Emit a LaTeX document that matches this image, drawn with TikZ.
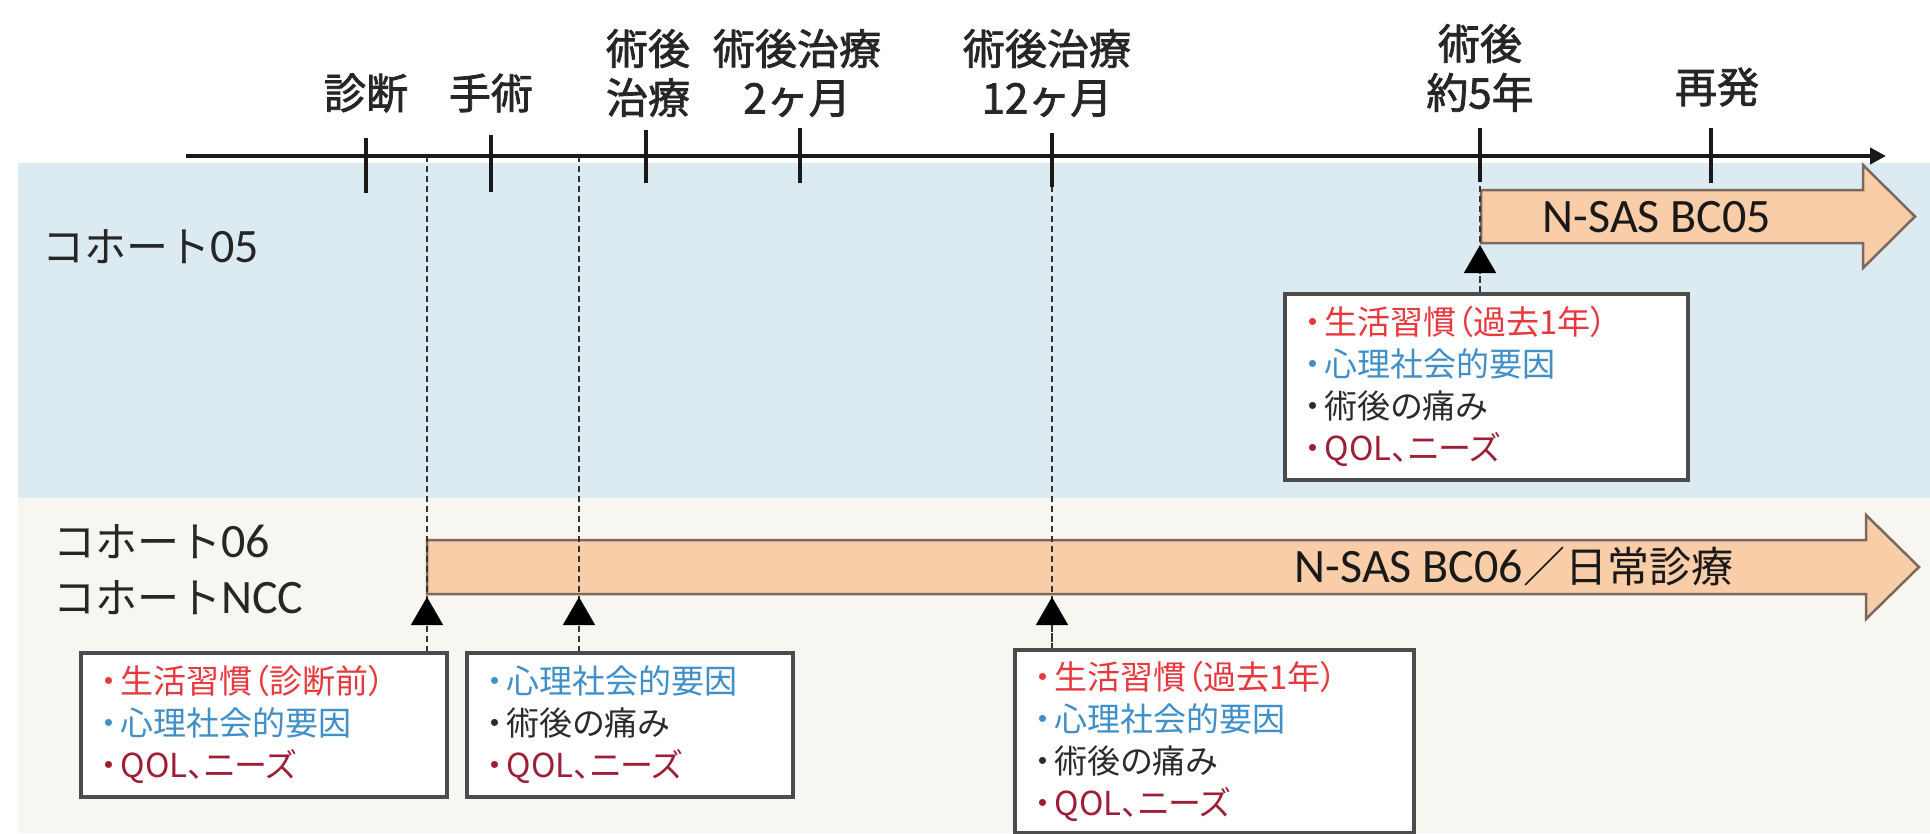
\documentclass[tikz,border=0pt]{standalone}
\usepackage{fontspec}
\setmainfont{Noto Sans CJK JP}
\newfontfamily\jp{Noto Sans CJK JP}
\newfontfamily\jpp[RawFeature=+palt]{Noto Sans CJK JP}
\newfontfamily\jpb[FakeBold=1.8]{Noto Sans CJK JP}
\newfontfamily\lat{Carlito}
\newcommand\bul{・\kern4pt}
\usetikzlibrary{arrows.meta}
\definecolor{bandblue}{HTML}{DCEAF2}
\definecolor{bandbeige}{HTML}{F8F6F1}
\definecolor{barfill}{HTML}{F9CDA8}
\definecolor{barline}{HTML}{7A6A5E}
\definecolor{cred}{HTML}{E8383D}
\definecolor{cblue}{HTML}{3F8FC8}
\definecolor{cdark}{HTML}{2B2B2B}
\definecolor{cmaroon}{HTML}{9E1F35}
\begin{document}
\begin{tikzpicture}[x=1pt,y=-1pt,
  axisline/.style={line width=4.5pt, draw=black!90, -{Triangle[length=16pt,width=16pt]}},
  tickmark/.style={line width=4pt, draw=black!90},
  timelbl/.style={font=\jpb\fontsize{42}{49}\selectfont, align=center, inner sep=0pt, text=black!85},
  cohortlbl/.style={anchor=west, inner sep=0pt, align=left, text=black!85, font=\jp\fontsize{42}{56}\selectfont},
  guide/.style={draw=black!80, line width=1.6pt, dash pattern=on 6pt off 4pt},
  pointer/.style={guide, -{Triangle[length=28pt,width=32pt,black]}},
  infobox/.style={draw=black!70, line width=2.5pt, fill=white, anchor=north west, inner xsep=19pt, inner ysep=0pt, align=left, font=\jpp\fontsize{33}{42}\selectfont},
  studybar/.style={draw=barline, line width=2.5pt, fill=barfill, line join=miter},
  bartext/.style={inner sep=0pt, text=black!90}]
\useasboundingbox (0,0) rectangle (1930,833);
\fill[white] (0,0) rectangle (1930,833);
\fill[bandblue] (18,163) rectangle (1930,498);
\fill[bandbeige] (18,498) rectangle (1930,833);

% cohort labels
\node[cohortlbl] (c05) at (42,247) {コホート{\lat\fontsize{48}{56}\selectfont 05}};
\node[cohortlbl] (c06) at (53,570) {コホート{\lat\fontsize{48}{56}\selectfont 06}\\コホート{\lat\fontsize{48}{56}\selectfont NCC}};

% study bars
\draw[studybar] (1481,190) -- (1863,190) -- (1863,165) -- (1915,216.5) -- (1863,268) -- (1863,243) -- (1481,243) -- cycle;
\node[bartext] (bc05) at (1657,217) {\lat\fontsize{48}{50}\selectfont N-SAS BC05};
\draw[studybar] (427,540) -- (1866,540) -- (1866,515) -- (1919,567) -- (1866,619) -- (1866,594) -- (427,594) -- cycle;
\node[bartext] (bc06) at (1514,567) {{\lat\fontsize{48}{50}\selectfont N-SAS BC06}{\jp\fontsize{42}{46}\selectfont ／日常診療}};

% info boxes
\node[infobox, minimum width=365pt, minimum height=143pt, text width=327pt] (q1) at (80,652)
  {{\color{cred}\bul 生活習慣（診断前）}\\{\color{cblue}\bul 心理社会的要因}\\{\color{cmaroon}\bul QOL、ニーズ}};
\node[infobox, minimum width=325pt, minimum height=143pt, text width=287pt] (q2) at (466,652)
  {{\color{cblue}\bul 心理社会的要因}\\{\color{cdark}\bul 術後の痛み}\\{\color{cmaroon}\bul QOL、ニーズ}};
\node[infobox, minimum width=398pt, minimum height=182pt, text width=360pt] (q3) at (1014,649)
  {{\color{cred}\bul 生活習慣（過去1年）}\\{\color{cblue}\bul 心理社会的要因}\\{\color{cdark}\bul 術後の痛み}\\{\color{cmaroon}\bul QOL、ニーズ}};
\node[infobox, minimum width=402pt, minimum height=185pt, text width=364pt] (q4) at (1284,293)
  {{\color{cred}\bul 生活習慣（過去1年）}\\{\color{cblue}\bul 心理社会的要因}\\{\color{cdark}\bul 術後の痛み}\\{\color{cmaroon}\bul QOL、ニーズ}};

% guides and pointers
\coordinate (g1) at (427,156); \coordinate (p1) at (427,597);
\coordinate (g2) at (579,156); \coordinate (p2) at (579,597);
\coordinate (g3) at (1052,156); \coordinate (p3) at (1052,597);
\coordinate (g4) at (1480,156); \coordinate (p4) at (1480,245);
\draw[guide] (g1) -- (g1 |- q1.north);
\draw[guide] (g2) -- (g2 |- q2.north);
\draw[guide] (g3) -- (g3 |- q3.north);
\draw[guide] (g4) -- (g4 |- q4.north);
\draw[pointer] (g1 |- q1.north) -- (p1);
\draw[pointer] (g2 |- q2.north) -- (p2);
\draw[pointer] (g3 |- q3.north) -- (p3);
\draw[pointer] (g4 |- q4.north) -- (p4);
% box borders over guide ends
\draw[draw=black!70, line width=2.5pt] (q1.north west) rectangle (q1.south east);
\draw[draw=black!70, line width=2.5pt] (q2.north west) rectangle (q2.south east);
\draw[draw=black!70, line width=2.5pt] (q3.north west) rectangle (q3.south east);
\draw[draw=black!70, line width=2.5pt] (q4.north west) rectangle (q4.south east);

% axis and ticks
\coordinate (axL) at (186,156);
\coordinate (axR) at (1886,156);
\draw[axisline] (axL) -- (axR);
\foreach \n/\x/\t/\b in {t1/366/138/193, t2/491/135/192, t3/646/130/183, t4/800/128/183, t5/1052/133/187, t6/1480/128/182, t7/1711/128/183}
  {\coordinate (\n-top) at (\x,\t); \coordinate (\n-bot) at (\x,\b); \draw[tickmark] (\n-top) -- (\n-bot);}

% time labels
\node[timelbl] (l1) at (366,93) {診断};
\node[timelbl] (l2) at (491,93) {手術};
\node[timelbl] (l3) at (648,73) {術後\\治療};
\node[timelbl] (l4) at (797,73) {術後治療\\2ヶ月};
\node[timelbl] (l5) at (1047,73) {術後治療\\12ヶ月};
\node[timelbl] (l6) at (1480,68) {術後\\約5年};
\node[timelbl] (l7) at (1717,87) {再発};
\end{tikzpicture}
\end{document}
